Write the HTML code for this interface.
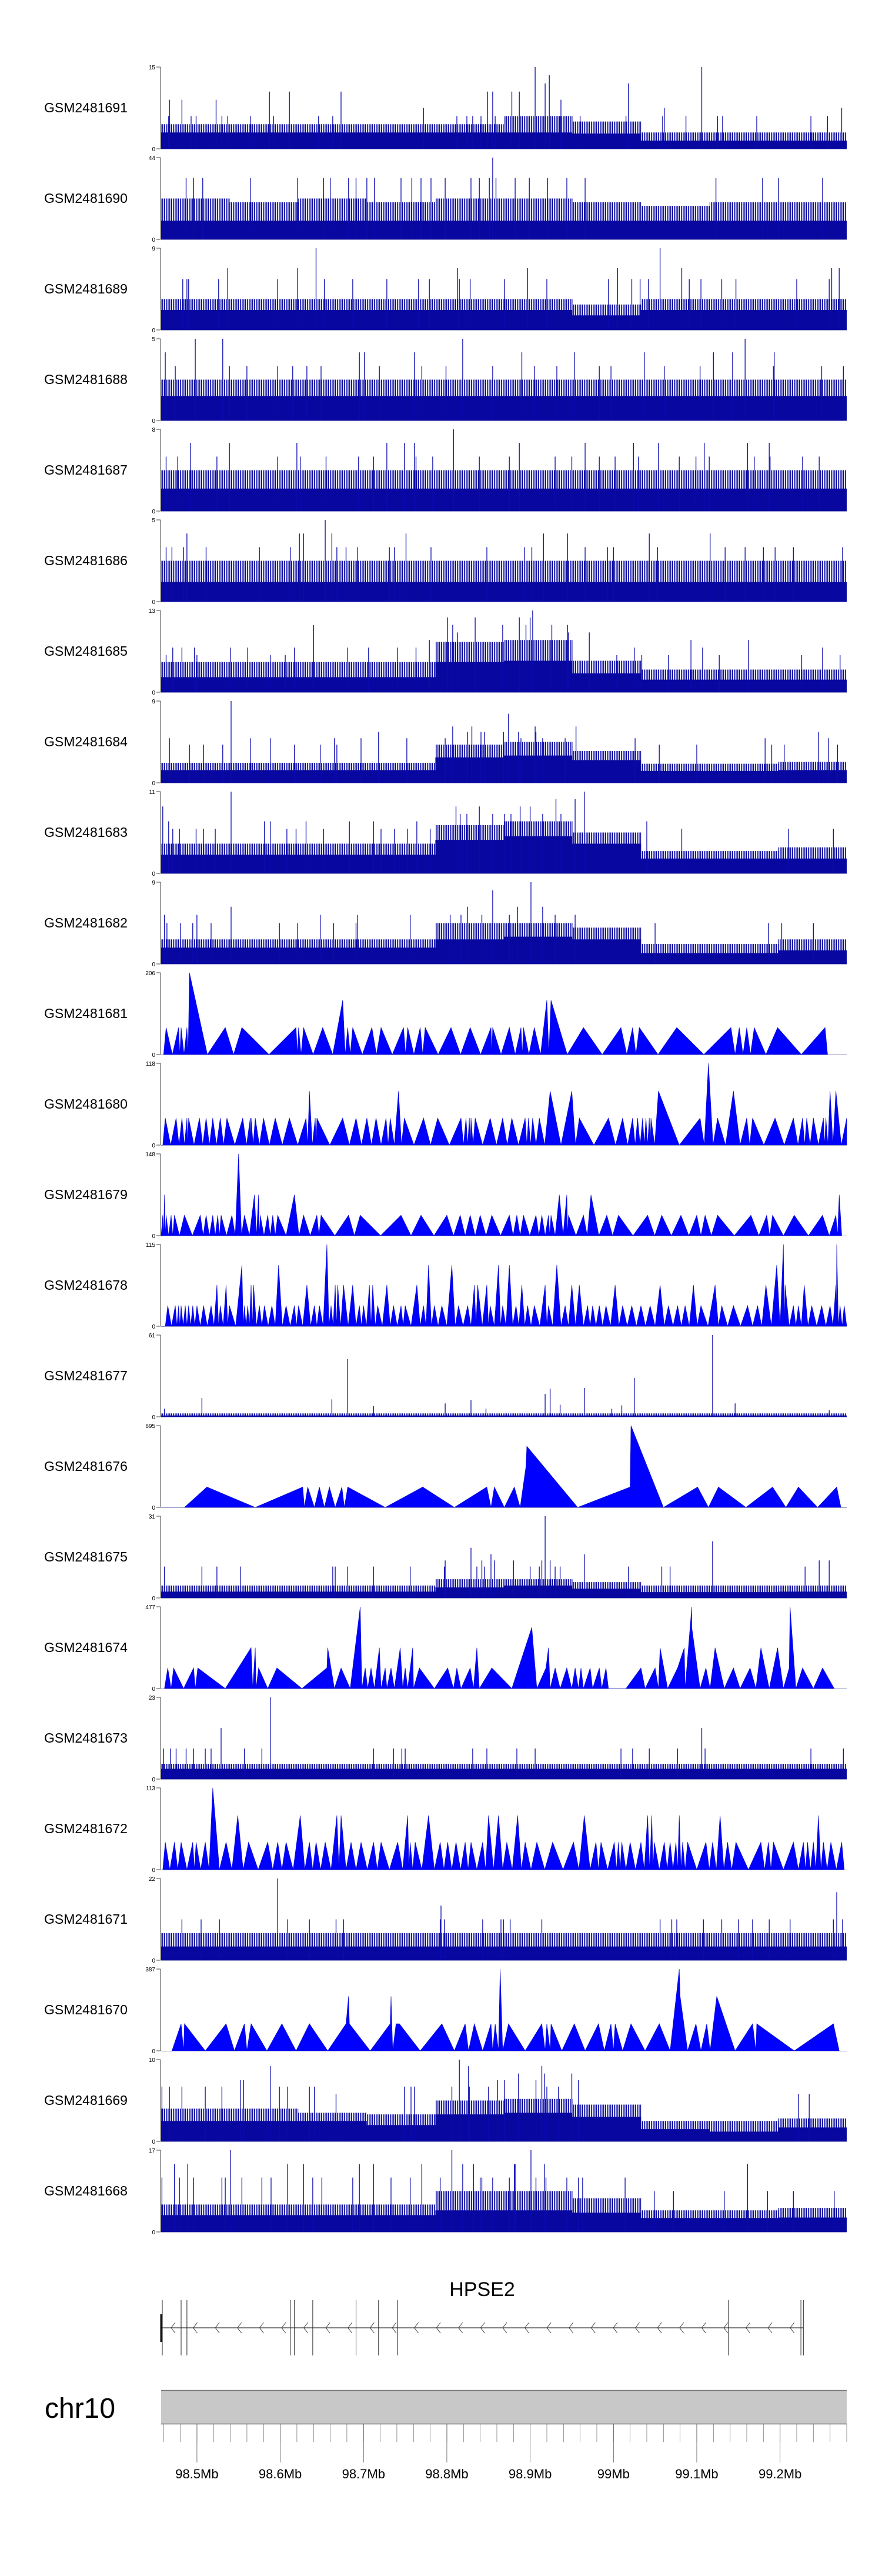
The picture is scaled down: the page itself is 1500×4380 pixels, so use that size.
<!DOCTYPE html>
<html><head><meta charset="utf-8"><title>HPSE2 coverage tracks</title>
<style>
html,body{margin:0;padding:0;background:#fff;}
svg{display:block;font-family:"Liberation Sans",Arial,sans-serif;}
</style></head>
<body>
<svg id="chart" xmlns="http://www.w3.org/2000/svg" width="1500" height="4380" viewBox="0 0 1500 4380">
<defs>
<pattern id="stripes" patternUnits="userSpaceOnUse" width="3" height="10">
<rect x="0" y="0" width="1.6" height="10" fill="#0606a0"/>
</pattern>
</defs>
<rect x="0" y="0" width="1500" height="4380" fill="#fff"/>
</svg>
<script>
// ---------- data ----------
const trackNames=['GSM2481691','GSM2481690','GSM2481689','GSM2481688','GSM2481687','GSM2481686','GSM2481685','GSM2481684','GSM2481683','GSM2481682','GSM2481681','GSM2481680','GSM2481679','GSM2481678','GSM2481677','GSM2481676','GSM2481675','GSM2481674','GSM2481673','GSM2481672','GSM2481671','GSM2481670','GSM2481669','GSM2481668'];
const trackMax=[15,44,9,5,8,5,13,9,11,9,206,118,148,115,61,695,31,477,23,113,22,387,10,17];
// positions are kb from 98.457 Mb
const t0_solid=[3,3,3,3,3,3,2.8,1.5,1.5,1.5];
const t0_fringe=[4.5,4.5,4.5,4.5,4.5,6,5,3,3,3];
const t0_spikePos=[449,649,466,461,561,130,154,216,392,398,421,430,10,25,66,480,315,604,817,9,36,42,73,80,107,135,189,206,216,355,367,374,384,401,479,503,558,602,630,668,674,715,780,800];
const t0_spikeVal=[15,15,13.5,12,12,10.5,10.5,10.5,10.5,10.5,10.5,10.5,9,9,9,9,7.5,7.5,7.5,6,6,6,6,6,6,6,6,6,6,6,6,6,6,6,6,6,6,6,6,6,6,6,6,6];
const t1_solid=[10,10,10,10,10,10,10,10,10,10];
const t1_fringe=[22,20,22,20,22,22,20,18,20,20];
const t1_spikePos=[398,30,39,50,107,164,195,203,225,234,247,256,288,301,312,324,341,372,382,394,402,425,442,464,487,509,666,722,741,794];
const t1_spikeVal=[44,33,33,33,33,33,33,33,33,33,33,33,33,33,33,33,33,33,33,33,33,33,33,33,33,33,33,33,33,33];
const t2_solid=[2.2,2.2,2.2,2.2,2.2,2.2,1.6,2.2,2.2,2.2];
const t2_fringe=[3.4,3.4,3.4,3.4,3.4,3.4,2.8,3.4,3.4,3.4];
const t2_spikePos=[186,599,80,164,356,440,548,625,805,814,26,31,33,69,140,196,230,271,309,322,358,371,412,463,537,565,575,585,634,648,673,690,763,802];
const t2_spikeVal=[9,9,6.8,6.8,6.8,6.8,6.8,6.8,6.8,6.8,5.6,5.6,5.6,5.6,5.6,5.6,5.6,5.6,5.6,5.6,5.6,5.6,5.6,5.6,5.6,5.6,5.6,5.6,5.6,5.6,5.6,5.6,5.6,5.6];
const t3_solid=[1.5,1.5,1.5,1.5,1.5,1.5,1.5,1.5,1.5,1.5];
const t3_fringe=[2.5,2.5,2.5,2.5,2.5,2.5,2.5,2.5,2.5,2.5];
const t3_spikePos=[41,74,362,701,5,238,244,304,433,496,580,663,686,736,17,82,103,140,158,175,192,262,313,342,398,448,475,526,540,604,647,735,793,819];
const t3_spikeVal=[5,5,5,5,4.17,4.17,4.17,4.17,4.17,4.17,4.17,4.17,4.17,4.17,3.33,3.33,3.33,3.33,3.33,3.33,3.33,3.33,3.33,3.33,3.33,3.33,3.33,3.33,3.33,3.33,3.33,3.33,3.33,3.33];
const t4_solid=[2.2,2.2,2.2,2.2,2.2,2.2,2.2,2.2,2.2,2.2];
const t4_fringe=[4,4,4,4,4,4,4,4,4,4];
const t4_spikePos=[351,35,82,163,271,292,304,430,509,567,597,652,704,730,6,20,67,140,167,198,237,255,306,326,382,418,473,493,526,545,573,622,642,658,712,731,770,790];
const t4_spikeVal=[8,6.67,6.67,6.67,6.67,6.67,6.67,6.67,6.67,6.67,6.67,6.67,6.67,6.67,5.33,5.33,5.33,5.33,5.33,5.33,5.33,5.33,5.33,5.33,5.33,5.33,5.33,5.33,5.33,5.33,5.33,5.33,5.33,5.33,5.33,5.33,5.33,5.33];
const t5_solid=[1.2,1.2,1.2,1.2,1.2,1.2,1.2,1.2,1.2,1.2];
const t5_fringe=[2.5,2.5,2.5,2.5,2.5,2.5,2.5,2.5,2.5,2.5];
const t5_spikePos=[197,31,166,171,205,294,459,488,586,659,6,13,27,54,118,155,211,222,236,274,280,324,391,436,445,509,536,543,596,677,701,723,737,759,818];
const t5_spikeVal=[5,4.17,4.17,4.17,4.17,4.17,4.17,4.17,4.17,4.17,3.33,3.33,3.33,3.33,3.33,3.33,3.33,3.33,3.33,3.33,3.33,3.33,3.33,3.33,3.33,3.33,3.33,3.33,3.33,3.33,3.33,3.33,3.33,3.33,3.33];
const t6_solid=[2.4,2.4,2.4,2.4,4.8,5,3,2,2,2];
const t6_fringe=[4.8,4.8,4.8,4.8,8,8.3,5,3.6,3.6,3.6];
const t6_spikePos=[446,344,377,430,443,183,350,410,438,488,469,356,489,514,322,636,705,14,25,40,83,104,160,224,249,284,306,568,650,794,6,43,131,149,547,577,609,670,769,815];
const t6_spikeVal=[13,11.9,11.9,11.9,11.9,10.7,10.7,10.7,10.7,10.7,10.7,9.5,9.5,9.5,8.3,8.3,8.3,7.1,7.1,7.1,7.1,7.1,7.1,7.1,7.1,7.1,7.1,7.1,7.1,7.1,5.9,5.9,5.9,5.9,5.9,5.9,5.9,5.9,5.9,5.9];
const t7_solid=[1.4,1.4,1.4,1.4,2.8,3,2.5,1.3,1.3,1.4];
const t7_fringe=[2.2,2.2,2.2,2.2,4.2,4.5,3.5,2.1,2.1,2.3];
const t7_spikePos=[84,417,350,373,449,498,261,368,384,388,411,429,450,789,10,107,131,208,240,295,341,432,458,485,569,725,801,34,51,74,160,191,211,598,643,733,748,812];
const t7_spikeVal=[9,7.6,6.2,6.2,6.2,6.2,5.6,5.6,5.6,5.6,5.6,5.6,5.6,5.6,4.9,4.9,4.9,4.9,4.9,4.9,4.9,4.9,4.9,4.9,4.9,4.9,4.9,4.2,4.2,4.2,4.2,4.2,4.2,4.2,4.2,4.2,4.2,4.2];
const t8_solid=[2.5,2.5,2.5,2.5,4.5,5,4,2,2,2];
const t8_fringe=[4,4,4,4,6.5,7,5.5,3,3,3.5];
const t8_spikePos=[84,508,474,497,2,354,382,431,443,359,367,398,412,420,458,480,9,124,131,174,226,255,307,583,14,22,42,51,65,151,162,195,226,264,280,296,323,583,625,753,807];
const t8_spikeVal=[11,11,10,10,9,9,9,9,9,8,8,8,8,8,8,8,7,7,7,7,7,7,7,7,6,6,6,6,6,6,6,6,6,6,6,6,6,6,6,6,6];
const t9_solid=[1.8,1.8,1.8,1.8,2.7,3,2.7,1.2,1.2,1.5];
const t9_fringe=[2.7,2.7,2.7,2.7,4.5,4.5,4,2.2,2.2,2.7];
const t9_spikePos=[444,398,84,368,428,458,4,43,191,236,299,347,360,385,418,473,497,7,23,38,60,142,164,207,234,593,729,745,783];
const t9_spikeVal=[9,8.1,6.3,6.3,6.3,6.3,5.4,5.4,5.4,5.4,5.4,5.4,5.4,5.4,5.4,5.4,5.4,4.5,4.5,4.5,4.5,4.5,4.5,4.5,4.5,4.5,4.5,4.5,4.5];
const t14_solid=[1,1,1,1,1,1,1,1,1,1];
const t14_fringe=[2.5,2.5,2.5,2.5,2.5,2.5,2.5,2.5,2.5,2.5];
const t14_spikePos=[4,49,205,224,255,341,372,390,461,467,479,508,541,553,568,662,689,802];
const t14_spikeVal=[6,14,13,43,8,10,12.5,6,17,21,9,21.5,6,8.5,29,61,10,5];
const t16_solid=[2.4,2.4,2.4,2.4,4,4.7,3.5,2.2,2.2,2.4];
const t16_fringe=[4.7,4.7,4.7,4.7,7.1,7.1,6,4.7,4.7,4.7];
const t16_spikePos=[461,662,372,396,508,341,385,400,423,457,467,790,802,4,49,67,95,206,209,224,255,299,340,379,388,443,454,473,479,561,601,611,773];
const t16_spikeVal=[31,21.5,19,16.6,16.6,14.2,14.2,14.2,14.2,14.2,14.2,14.2,14.2,11.9,11.9,11.9,11.9,11.9,11.9,11.9,11.9,11.9,11.9,11.9,11.9,11.9,11.9,11.9,11.9,11.9,11.9,11.9,11.9];
const t18_solid=[2.9,2.9,2.9,2.9,2.9,2.9,2.9,2.9,2.9,2.9];
const t18_fringe=[4.3,4.3,4.3,4.3,4.3,4.3,4.3,4.3,4.3,4.3];
const t18_spikePos=[131,72,649,3,11,18,30,39,53,60,100,121,255,279,289,293,374,391,427,449,552,566,586,620,653,780,819];
const t18_spikeVal=[23,14.4,14.4,8.6,8.6,8.6,8.6,8.6,8.6,8.6,8.6,8.6,8.6,8.6,8.6,8.6,8.6,8.6,8.6,8.6,8.6,8.6,8.6,8.6,8.6,8.6,8.6];
const t20_solid=[3.7,3.7,3.7,3.7,3.7,3.7,3.7,3.7,3.7,3.7];
const t20_fringe=[7.3,7.3,7.3,7.3,7.3,7.3,7.3,7.3,7.3,7.3];
const t20_spikePos=[140,811,336,25,48,70,152,178,210,219,335,340,386,408,411,419,457,599,613,619,651,673,693,710,730,755,807,818];
const t20_spikeVal=[22,18.3,14.7,11,11,11,11,11,11,11,11,11,11,11,11,11,11,11,11,11,11,11,11,11,11,11,11,11];
const t22_solid=[2.5,2.5,2.5,2,3.3,3.5,3,1.5,1.2,1.7];
const t22_fringe=[4,4,3.5,3.3,5,5.2,4.5,2.5,2.5,2.8];
const t22_spikePos=[358,131,369,457,429,460,493,95,99,404,412,450,501,1,10,25,53,73,142,152,178,184,292,300,304,349,370,393,404,463,477,210,765,778];
const t22_spikeVal=[10,9.2,9.2,9.2,8.3,8.3,8.3,7.5,7.5,7.5,7.5,7.5,7.5,6.7,6.7,6.7,6.7,6.7,6.7,6.7,6.7,6.7,6.7,6.7,6.7,6.7,6.7,6.7,6.7,6.7,6.7,5.8,5.8,5.8];
const t23_solid=[3.5,3.5,3.5,3.5,4.5,4.5,4,2.9,2.9,3];
const t23_fringe=[5.7,5.7,5.7,5.7,8.5,8.5,7,4.5,4.5,5];
const t23_spikePos=[83,349,444,16,32,152,171,238,255,313,362,375,425,424,460,704,1,22,39,73,77,97,121,132,182,193,230,276,299,335,383,385,398,418,450,462,487,501,506,557,592,615,676,728,759,808];
const t23_spikeVal=[17,17,17,14.1,14.1,14.1,14.1,14.1,14.1,14.1,14.1,14.1,14.1,14.1,14.1,14.1,11.3,11.3,11.3,11.3,11.3,11.3,11.3,11.3,11.3,11.3,11.3,11.3,11.3,11.3,11.3,11.3,11.3,11.3,11.3,11.3,11.3,11.3,11.3,11.3,8.5,8.5,8.5,8.5,8.5,8.5];
// triangle tracks (peak lists; valleys midway)
const t10_peakPos=[6,21,24,31,34,77,97,162,165,171,194,218,224,230,253,264,291,296,311,317,348,371,396,398,418,432,435,448,463,468,507,552,566,574,619,684,694,703,712,740,797];
const t10_peakVal=[68,68,68,68,206,68,68,68,68,68,68,137,68,68,68,68,68,68,68,68,68,68,68,68,68,68,68,68,137,137,68,68,68,68,68,68,68,68,68,68,68];
const t11_peakPos=[5,18,25,31,33,46,54,62,71,79,98,107,108,113,123,137,154,174,178,185,187,218,234,247,258,270,275,285,292,315,332,360,366,370,372,377,395,410,421,437,441,446,454,467,493,502,537,554,566,572,578,582,586,588,597,647,657,668,687,703,710,737,759,770,775,783,795,798,803,810,823];
const t11_peakVal=[39,39,39,39,39,39,39,39,39,39,39,39,39,39,39,39,39,39,78,39,39,39,39,39,39,39,39,78,39,39,39,39,39,39,39,39,39,39,39,39,39,39,39,78,78,39,39,39,39,39,39,39,39,39,78,39,118,39,78,39,39,39,39,39,39,39,39,39,78,78,39];
const t12_peakPos=[2,4,6,12,16,28,47,54,62,68,72,85,93,100,112,117,119,128,134,140,160,171,187,192,225,239,288,312,343,359,371,383,397,418,427,435,450,457,465,468,478,487,489,507,516,535,549,584,601,624,643,653,668,708,727,734,760,794,810,814];
const t12_peakVal=[37,74,37,37,37,37,37,37,37,37,37,37,148,37,74,74,37,37,37,37,74,37,37,37,37,37,37,37,37,37,37,37,37,37,37,37,37,37,37,37,74,74,37,37,74,37,37,37,37,37,37,37,37,37,37,37,37,37,37,74];
const t13_peakPos=[8,17,21,24,29,33,38,43,51,60,67,71,78,82,97,100,104,108,111,118,124,133,141,150,160,165,175,184,190,199,204,209,212,219,230,238,243,250,254,260,271,279,288,293,307,315,321,328,337,349,357,368,376,380,391,395,405,410,418,426,433,440,448,461,465,475,485,493,502,512,518,526,534,545,554,565,576,587,599,609,620,629,639,648,665,673,687,704,716,726,739,747,749,759,765,772,781,793,803,810,811,815,820];
const t13_peakVal=[29,29,29,29,29,29,29,29,29,29,58,29,58,29,86,29,29,58,58,29,29,29,86,29,29,29,58,29,29,115,29,58,58,58,58,29,29,58,58,29,58,29,29,29,58,29,86,29,29,86,29,29,58,58,58,29,86,29,86,29,58,29,29,58,29,86,29,58,58,29,29,29,29,58,29,29,29,29,58,29,29,29,58,29,58,29,29,29,29,58,86,115,58,29,29,58,29,29,29,58,115,29,29];
const t19_peakPos=[5,16,24,38,42,53,62,78,92,105,128,140,150,167,178,186,197,211,216,228,240,255,264,284,296,299,305,321,335,344,354,365,372,386,393,405,415,428,437,451,470,495,508,522,528,544,549,553,563,576,584,589,592,604,611,618,622,626,632,654,662,671,680,690,720,729,735,759,771,776,783,789,795,804,817];
const t19_peakVal=[38,38,38,38,38,38,113,38,75,38,38,38,38,75,38,38,38,75,75,38,38,38,38,38,75,38,38,75,38,38,38,38,38,38,75,75,38,75,38,38,38,38,75,38,38,38,38,38,38,38,75,75,38,38,38,38,75,38,38,38,38,75,38,38,38,38,38,38,38,38,38,75,38,38,38];
// triangle tracks (explicit vertex lists)
const t15_vertPos=[28,55,113,170,172,176,184,190,196,202,209,217,220,224,269,314,352,391,396,400,412,424,431,438,439,500,563,564,603,644,657,669,702,734,750,765,788,811,816];
const t15_vertVal=[0,173,0,173,0,173,0,173,0,173,0,173,0,173,0,173,0,173,0,173,0,173,0,350,520,0,173,695,0,173,0,173,0,173,0,173,0,173,0];
const t17_vertPos=[4,8,12,15,27,39,41,44,77,108,110,113,114,117,128,139,169,199,200,208,216,227,239,241,245,248,252,256,262,264,269,271,276,280,287,290,293,296,302,303,310,328,344,351,355,360,371,375,379,382,397,421,445,451,462,465,467,473,479,487,493,497,501,504,507,515,518,526,529,534,537,558,576,581,593,597,599,608,620,628,629,637,637,647,654,659,665,676,687,695,707,714,720,730,740,747,754,755,762,770,783,794,808];
const t17_vertVal=[0,120,0,120,0,120,0,120,0,238,0,238,0,120,0,120,0,120,238,0,120,0,477,0,120,0,120,0,238,0,120,0,120,0,238,0,120,0,238,0,120,0,120,0,120,0,120,0,238,0,120,0,357,0,120,238,0,120,0,120,0,120,0,120,0,120,0,120,0,120,0,0,120,0,120,0,238,0,120,238,0,477,357,0,120,0,238,0,120,0,120,0,238,0,238,0,120,477,0,120,0,120,0];
const t21_vertPos=[13,24,27,28,53,78,88,100,103,108,127,145,162,178,200,222,225,226,251,275,276,278,282,286,311,337,352,365,369,376,386,396,398,401,405,407,410,417,437,457,461,463,467,468,481,496,509,525,532,540,543,545,554,564,581,598,611,622,623,632,642,648,655,659,667,689,710,714,715,760,807,814];
const t21_vertVal=[0,128,0,128,0,128,0,128,0,128,0,128,0,128,0,128,258,128,0,128,258,0,128,128,0,128,0,128,0,128,0,128,0,128,0,387,0,128,0,128,0,128,0,128,0,128,0,128,0,128,0,128,0,128,0,128,0,387,258,0,128,0,128,0,258,0,128,0,128,0,128,0];
// gene model
const geneExonPos=[1.4,24,31,155,160,182,234,261,284,681,768,771];
const geneStart=0, geneEnd=771;
const axisTickLabels=['98.5Mb','98.6Mb','98.7Mb','98.8Mb','98.9Mb','99Mb','99.1Mb','99.2Mb'];
const axisTickMb=[98.5,98.6,98.7,98.8,98.9,99.0,99.1,99.2];

const denseSolid={0:t0_solid,1:t1_solid,2:t2_solid,3:t3_solid,4:t4_solid,5:t5_solid,6:t6_solid,7:t7_solid,8:t8_solid,9:t9_solid,14:t14_solid,16:t16_solid,18:t18_solid,20:t20_solid,22:t22_solid,23:t23_solid};
const denseFringe={0:t0_fringe,1:t1_fringe,2:t2_fringe,3:t3_fringe,4:t4_fringe,5:t5_fringe,6:t6_fringe,7:t7_fringe,8:t8_fringe,9:t9_fringe,14:t14_fringe,16:t16_fringe,18:t18_fringe,20:t20_fringe,22:t22_fringe,23:t23_fringe};
const spikePos={0:t0_spikePos,1:t1_spikePos,2:t2_spikePos,3:t3_spikePos,4:t4_spikePos,5:t5_spikePos,6:t6_spikePos,7:t7_spikePos,8:t8_spikePos,9:t9_spikePos,14:t14_spikePos,16:t16_spikePos,18:t18_spikePos,20:t20_spikePos,22:t22_spikePos,23:t23_spikePos};
const spikeVal={0:t0_spikeVal,1:t1_spikeVal,2:t2_spikeVal,3:t3_spikeVal,4:t4_spikeVal,5:t5_spikeVal,6:t6_spikeVal,7:t7_spikeVal,8:t8_spikeVal,9:t9_spikeVal,14:t14_spikeVal,16:t16_spikeVal,18:t18_spikeVal,20:t20_spikeVal,22:t22_spikeVal,23:t23_spikeVal};
const peakPos={10:t10_peakPos,11:t11_peakPos,12:t12_peakPos,13:t13_peakPos,19:t19_peakPos};
const peakVal={10:t10_peakVal,11:t11_peakVal,12:t12_peakVal,13:t13_peakVal,19:t19_peakVal};
const vertPos={15:t15_vertPos,17:t17_vertPos,21:t21_vertPos};
const vertVal={15:t15_vertVal,17:t17_vertVal,21:t21_vertVal};

// ---------- layout ----------
const NS='http://www.w3.org/2000/svg';
const svg=document.getElementById('chart');
const X0=274, X1=1440, SPAN_KB=823, START_MB=98.457;
const TOP0=114, PITCH=154, PH=139;
function xKb(kb){return X0+kb/SPAN_KB*(X1-X0);}
function xMb(mb){return xKb((mb-START_MB)*1000);}
function yVal(i,v){const z=TOP0+PITCH*i+PH;return z-Math.min(v,trackMax[i])/trackMax[i]*PH;}
function mk(tag,parent){const e=document.createElementNS(NS,tag);parent.appendChild(e);return e;}

for(let i=0;i<trackNames.length;i++){
  const g=mk('g',svg);
  
  
  const top=TOP0+PITCH*i, zero=top+PH;
  const lab=mk('text',g);
  
  
  lab.setAttribute('x',75);lab.setAttribute('y',top+77);
  lab.setAttribute('font-size','23');lab.setAttribute('fill','#000');
  lab.textContent=trackNames[i];
  const ax=mk('path',g);
  
  
  ax.setAttribute('d',`M273 ${top}V${zero}M266 ${top}H273M266 ${zero}H273`);
  ax.setAttribute('stroke','#444');ax.setAttribute('stroke-width','1');ax.setAttribute('fill','none');
  const tt=mk('text',g);
  
  
  tt.setAttribute('x',264);tt.setAttribute('y',top+4);tt.setAttribute('font-size','10');tt.setAttribute('text-anchor','end');
  tt.textContent=String(trackMax[i]);
  const tz=mk('text',g);
  
  
  tz.setAttribute('x',264);tz.setAttribute('y',zero+4);tz.setAttribute('font-size','10');tz.setAttribute('text-anchor','end');
  tz.textContent='0';

  if(denseSolid[i]){
    const sol=denseSolid[i], fr=denseFringe[i], n=sol.length, bw=SPAN_KB/n;
    let dF=`M${X0} ${zero}`, dS=`M${X0} ${zero}`;
    for(let b=0;b<n;b++){
      const xa=xKb(b*bw), xb=xKb((b+1)*bw);
      dF+=`L${xa} ${yVal(i,fr[b])}L${xb} ${yVal(i,fr[b])}`;
      dS+=`L${xa} ${yVal(i,sol[b])}L${xb} ${yVal(i,sol[b])}`;
    }
    dF+=`L${X1} ${zero}Z`; dS+=`L${X1} ${zero}Z`;
    const pf=mk('path',g);
    
    
    pf.setAttribute('d',dF);pf.setAttribute('fill','url(#stripes)');
    const ps=mk('path',g);
    
    
    ps.setAttribute('d',dS);ps.setAttribute('fill','#0808a0');
    const sp=spikePos[i], sv=spikeVal[i];
    let dd='';
    for(let k=0;k<sp.length;k++){const x=xKb(sp[k]).toFixed(1);dd+=`M${x} ${zero}V${yVal(i,sv[k]).toFixed(1)}`;}
    const pl=mk('path',g);
    
    
    pl.setAttribute('d',dd);pl.setAttribute('stroke','#0a0ab0');pl.setAttribute('stroke-width','1.3');pl.setAttribute('fill','none');
  } else if(peakPos[i]){
    const pp=peakPos[i], pv=peakVal[i];
    let d=`M${xKb(Math.max(0,pp[0]-3))} ${zero}`;
    for(let k=0;k<pp.length;k++){
      if(k>0){d+=`L${xKb((pp[k-1]+pp[k])/2)} ${zero}`;}
      d+=`L${xKb(pp[k])} ${yVal(i,pv[k])}`;
    }
    d+=`L${xKb(Math.min(SPAN_KB,pp[pp.length-1]+3))} ${zero}Z`;
    const p=mk('path',g);
    
    
    p.setAttribute('d',d);p.setAttribute('fill','#0000ff');p.setAttribute('stroke','#0000c8');p.setAttribute('stroke-width','0.6');
  } else if(vertPos[i]){
    const vp=vertPos[i], vv=vertVal[i];
    let d=`M${xKb(vp[0])} ${zero}`;
    for(let k=0;k<vp.length;k++){d+=`L${xKb(vp[k])} ${yVal(i,vv[k])}`;}
    d+=`L${xKb(vp[vp.length-1])} ${zero}Z`;
    const p=mk('path',g);
    
    
    p.setAttribute('d',d);p.setAttribute('fill','#0000ff');p.setAttribute('stroke','#0000c8');p.setAttribute('stroke-width','0.6');
  }
  const base=mk('line',g);
  
  
  base.setAttribute('x1',X0);base.setAttribute('x2',X1);base.setAttribute('y1',zero+0.5);base.setAttribute('y2',zero+0.5);
  base.setAttribute('stroke','#9090c8');base.setAttribute('stroke-width','1');
}

// ---------- gene model ----------
const gg=mk('g',svg);


const gt=mk('text',gg);


gt.setAttribute('x',820);gt.setAttribute('y',3904);gt.setAttribute('font-size','34');gt.setAttribute('text-anchor','middle');
gt.textContent='HPSE2';
const gl=mk('line',gg);


gl.setAttribute('x1',xKb(geneStart));gl.setAttribute('x2',xKb(geneEnd));gl.setAttribute('y1',3958);gl.setAttribute('y2',3958);
gl.setAttribute('stroke','#333');gl.setAttribute('stroke-width','1.2');
let chev='';
for(let cx=xKb(geneStart)+20;cx<xKb(geneEnd);cx+=37.6){chev+=`M${cx+4} 3949L${cx-3} 3958L${cx+4} 3967`;}
const gc=mk('path',gg);


gc.setAttribute('d',chev);gc.setAttribute('stroke','#333');gc.setAttribute('stroke-width','0.9');gc.setAttribute('fill','none');
let ex='';
for(const p of geneExonPos){const x=xKb(p).toFixed(1);ex+=`M${x} 3911V4005`;}
const ge=mk('path',gg);


ge.setAttribute('d',ex);ge.setAttribute('stroke','#222');ge.setAttribute('stroke-width','1');ge.setAttribute('fill','none');
const gs=mk('rect',gg);


gs.setAttribute('x',xKb(geneStart)-1.5);gs.setAttribute('y',3935);gs.setAttribute('width',3);gs.setAttribute('height',47);gs.setAttribute('fill','#111');

// ---------- ideogram & axis ----------
const ag=mk('g',svg);


const chrT=mk('text',ag);


chrT.setAttribute('x',76);chrT.setAttribute('y',4111);chrT.setAttribute('font-size','48');
chrT.textContent='chr10';
const band=mk('rect',ag);


band.setAttribute('x',X0);band.setAttribute('y',4064);band.setAttribute('width',X1-X0);band.setAttribute('height',58);
band.setAttribute('fill','#c8c8c8');
const bt=mk('path',ag);


bt.setAttribute('d',`M${X0} 4064.5H${X1}M${X0} 4121.5H${X1}`);bt.setAttribute('stroke','#777');bt.setAttribute('stroke-width','1.5');
let mt='';
for(let mb=98.46;mb<=99.2801;mb+=0.02){const x=xMb(mb).toFixed(1);mt+=`M${x} 4122V4152`;}
const mtp=mk('path',ag);


mtp.setAttribute('d',mt);mtp.setAttribute('stroke','#777');mtp.setAttribute('stroke-width','0.8');
for(let k=0;k<axisTickMb.length;k++){
  const x=xMb(axisTickMb[k]);
  const tl=mk('line',ag);
  
  
  tl.setAttribute('x1',x);tl.setAttribute('x2',x);tl.setAttribute('y1',4122);tl.setAttribute('y2',4187);
  tl.setAttribute('stroke','#555');tl.setAttribute('stroke-width','0.8');
  const tx=mk('text',ag);
  
  
  tx.setAttribute('x',x);tx.setAttribute('y',4214);tx.setAttribute('font-size','22');tx.setAttribute('text-anchor','middle');
  tx.textContent=axisTickLabels[k];
}
</script>
</body></html>
